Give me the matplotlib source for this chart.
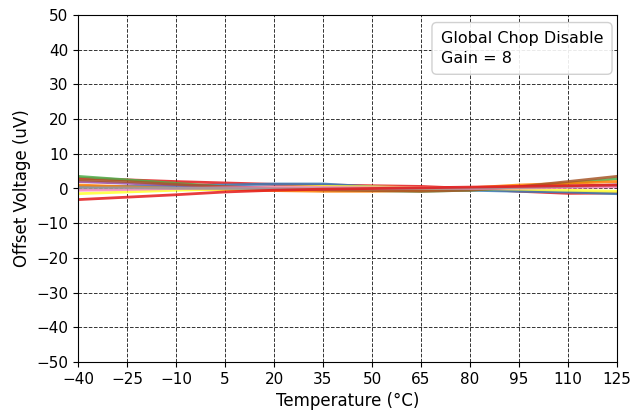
import matplotlib
matplotlib.use("Agg")
import matplotlib.pyplot as plt
import numpy as np

temps = [-40, -25, -10, 5, 20, 35, 50, 65, 80, 95, 110, 125]
series = {
    "red1":   [3.0, 2.5, 2.0, 1.6, 1.2, 1.0, 0.8, 0.6, 0.0, -0.8, -1.4, -1.3],
    "blue":   [0.5, 0.6, 0.8, 1.0, 1.3, 1.3, 0.5, 0.0, -0.5, -0.8, -1.0, -1.5],
    "green":  [3.5, 2.5, 1.5, 0.5, 0.0, -0.3, -0.6, -0.8, -0.5, 0.3, 1.5, 2.8],
    "purple": [2.0, 1.5, 1.0, 0.5, 0.2, 0.0, -0.2, -0.3, 0.0, 0.3, 0.6, 1.0],
    "orange": [1.0, 0.5, 0.0, -0.3, -0.6, -0.8, -0.8, -0.5, 0.2, 1.0, 1.5, 2.0],
    "yellow": [-1.5, -1.0, -0.5, -0.2, 0.3, 0.6, 0.5, 0.2, 0.0, -0.2, -0.5, -0.8],
    "brown":  [2.5, 2.0, 1.2, 0.5, 0.0, -0.4, -0.6, -0.8, -0.5, 0.5, 2.0, 3.5],
    "pink":   [-0.5, -0.3, 0.0, 0.2, 0.3, 0.3, 0.2, 0.2, 0.0, 0.1, 0.3, 0.5],
    "grey":   [0.2, 0.2, 0.1, 0.0, -0.1, -0.1, -0.1, 0.0, 0.1, 0.3, 0.6, 1.0],
    "red2":   [-3.2, -2.5, -1.8, -1.0, -0.5, -0.2, 0.0, 0.2, 0.4, 0.6, 0.8, 1.0],
}
colors = ["#e41a1c", "#377eb8", "#4daf4a", "#984ea3", "#ff7f00",
          "#ffff33", "#a65628", "#f781bf", "#999999", "#e41a1c"]

xticks = list(range(-40, 126, 15))
yticks = list(range(-50, 51, 10))

fig = plt.figure(figsize=(6.31, 4.15), dpi=100)
ax = fig.add_axes([78/631, 53/415, (617-78)/631, (362-15)/415])

for (name, vals), c in zip(series.items(), colors):
    ax.plot(temps, vals, color=c, lw=2, alpha=0.85)

ax.set_xlim(-40, 125)
ax.set_ylim(-50, 50)
ax.set_xticks(xticks)
ax.set_yticks(yticks)
ax.tick_params(labelsize=11)
ax.grid(True, color="#333333", linestyle="--", linewidth=0.7)
ax.set_xlabel("Temperature (°C)", fontsize=12)
ax.set_ylabel("Offset Voltage (uV)", fontsize=12)

ax.text(0.673, 0.953, "Global Chop Disable\nGain = 8", transform=ax.transAxes,
        ha="left", va="top", fontsize=11.5, linespacing=1.35, multialignment="left",
        bbox=dict(boxstyle="round,pad=0.55,rounding_size=0.3", facecolor="white",
                  edgecolor="#cccccc", alpha=0.9))

fig.savefig("out.png", dpi=100)
